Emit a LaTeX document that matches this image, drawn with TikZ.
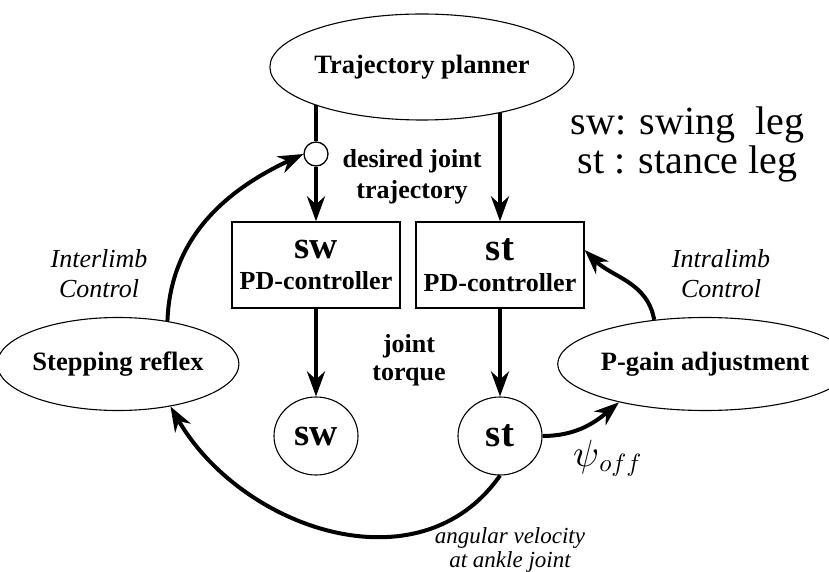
\documentclass[tikz,border=0pt]{standalone}
\usepackage{fontspec}
\setmainfont{Liberation Serif}
\DeclareFontShape{OML}{cmm}{m}{it}{<->cmmi10}{}
\usetikzlibrary{arrows.meta, shapes.geometric, positioning, backgrounds}

\tikzset{
  blob/.style={draw, ellipse, fill=white, line width=1.1pt, inner sep=0pt,
    font=\bfseries\fontsize{26.5}{30}\selectfont},
  ctrlbox/.style={draw, rectangle, fill=white, line width=1.3pt, inner sep=0pt,
    minimum width=168pt, minimum height=86pt, align=center,
    font=\bfseries\fontsize{26}{31}\selectfont},
  legnode/.style={draw, ellipse, fill=white, line width=1.1pt, inner sep=0pt,
    minimum width=84pt, minimum height=78pt, font=\bfseries\fontsize{39}{39}\selectfont},
  flow/.style={line width=4pt, -{Stealth[length=25pt, width=18pt, inset=8pt]}},
  boldnote/.style={inner sep=0pt, align=center, font=\bfseries\fontsize{26}{31}\selectfont},
  itnote/.style={inner sep=0pt, align=center, font=\itshape\fontsize{26}{30}\selectfont}
}

\begin{document}
\begin{tikzpicture}[x=1pt, y=1pt]
  \useasboundingbox (0,0) rectangle (829,571);
  % planner, junction and the two legs
  \node[blob, minimum width=281pt, minimum height=106pt] (planner) at (422,504) {Trajectory planner};
  \node[draw, circle, fill=white, line width=1.3pt, minimum size=24pt, inner sep=0pt] (junction) at (316,417) {};
  \foreach \nm/\x in {sw/316, st/500}{
    \node[ctrlbox] (\nm box) at (\x,306) {{\fontsize{39}{39}\selectfont \nm}\\PD-controller};
    \node[legnode] (\nm leg) at (\x,135) {\nm};
    \draw[flow] (\nm box) -- (\nm leg);
  }
  \begin{scope}[on background layer]
    \draw[line width=4pt] (planner.center -| junction) -- (junction);
    \draw[flow] (planner.center -| stbox.north) -- (stbox.north);
  \end{scope}
  \draw[flow] (junction) -- (swbox);
  % reflex side and gain side
  \node[blob, minimum width=213pt, minimum height=93pt] (reflex) at (118,207) {Stepping reflex};
  \node[blob, minimum width=250pt, minimum height=93pt] (pgain) at (705,207) {P-gain adjustment};
  \draw[flow] (reflex.41) to[out=88, in=205] (junction.west);
  \draw[flow] (pgain.139) to[out=100, in=-45] ([yshift=15pt]stbox.east);
  \draw[flow] (stleg.east) to[out=0, in=220] (pgain.204);
  \draw[flow] (stleg.south) to[out=-125, in=-60, looseness=1.07] (reflex.321);
  % labels
  \node[boldnote] (desired) at (412,394.5) {desired joint\\trajectory};
  \node[boldnote, font=\bfseries\fontsize{26}{28}\selectfont] (torque) at (409,211) {joint\\torque};
  \node[itnote] (inter) at (99,297) {Interlimb\\Control};
  \node[itnote] (intra) at (721,297) {Intralimb\\Control};
  \node[itnote, font=\itshape\fontsize{23}{24}\selectfont] (angvel) at (510,21.5) {angular velocity\\at ankle joint};
  \node[inner sep=0pt, anchor=base west, font=\fontsize{38}{38}\selectfont] (psi) at (573,105)
    {$\psi$\raisebox{-5pt}{\fontsize{25}{25}\selectfont$off$}};
  \node[inner sep=0pt, align=center, font=\fontsize{40}{39}\selectfont] (legend) at (687.5,427) {sw: swing\ \ leg\\st : stance leg};
\end{tikzpicture}
\end{document}
